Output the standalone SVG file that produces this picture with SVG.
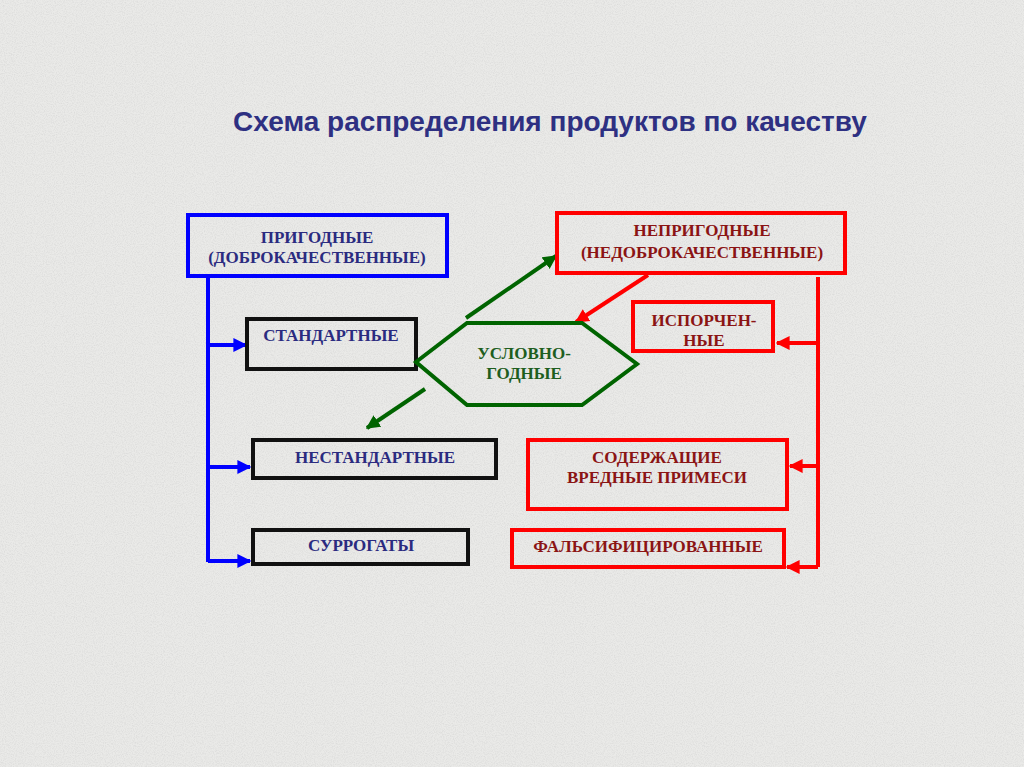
<svg xmlns="http://www.w3.org/2000/svg" width="1024" height="767" viewBox="0 0 1024 767">
<defs>
<filter id="grain" x="0" y="0" width="100%" height="100%">
<feTurbulence type="fractalNoise" baseFrequency="0.9" numOctaves="2" seed="3" result="n"/>
<feColorMatrix in="n" type="matrix" values="0 0 0 0 0.55  0 0 0 0 0.55  0 0 0 0 0.55  0 0 0 -1.2 0.75" result="m"/>
<feComposite in="m" in2="SourceGraphic" operator="in"/>
</filter>
<marker id="ab" viewBox="0 0 10 10" refX="9" refY="5" markerWidth="3.5" markerHeight="3.5" orient="auto" markerUnits="strokeWidth"><path d="M0,0 L10,5 L0,10 z" fill="#0000ff"/></marker>
<marker id="ar" viewBox="0 0 10 10" refX="9" refY="5" markerWidth="3.5" markerHeight="3.5" orient="auto" markerUnits="strokeWidth"><path d="M0,0 L10,5 L0,10 z" fill="#ff0000"/></marker>
<marker id="ag" viewBox="0 0 10 10" refX="9" refY="5" markerWidth="3.5" markerHeight="3.5" orient="auto" markerUnits="strokeWidth"><path d="M0,0 L10,5 L0,10 z" fill="#006400"/></marker>
</defs>
<style>
.box{fill:none;stroke-width:4}
.blue{stroke:#0000ff}
.red{stroke:#ff0000}
.blk{stroke:#111111}
.t{font-family:"Liberation Serif","Times New Roman",serif;font-weight:bold;font-size:17px;text-anchor:middle}
.tb{fill:#2b2b80}
.tr{fill:#8b1414}
.tg{fill:#1e5e1e}
.lb{stroke:#0000ff;stroke-width:4;fill:none}
.lr{stroke:#ff0000;stroke-width:4;fill:none}
.lg{stroke:#006400;stroke-width:4;fill:none}
</style>
<rect width="1024" height="767" fill="#eaeae8"/>
<rect width="1024" height="767" fill="#ffffff" filter="url(#grain)" opacity="0.6"/>
<text x="550" y="131" font-family="Liberation Sans,Arial,sans-serif" font-weight="bold" font-size="28" fill="#2e3082" text-anchor="middle">Схема распределения продуктов по качеству</text>

<g id="connectors">
<path class="lb" d="M208,276 V562"/>
<path class="lb" d="M208,345 H246" marker-end="url(#ab)"/>
<path class="lb" d="M208,467 H250" marker-end="url(#ab)"/>
<path class="lb" d="M208,561 H250" marker-end="url(#ab)"/>
<path class="lr" d="M818,277 V567"/>
<path class="lr" d="M818,343 H777" marker-end="url(#ar)"/>
<path class="lr" d="M818,466 H790" marker-end="url(#ar)"/>
<path class="lr" d="M818,567 H787" marker-end="url(#ar)"/>
<path class="lg" d="M466,318 L556,256" marker-end="url(#ag)"/>
<path class="lg" d="M425,389 L367,428" marker-end="url(#ag)"/>
<path class="lr" d="M648,275 L576,322" marker-end="url(#ar)"/>
</g>

<g id="prigodnye">
<rect class="box blue" x="188" y="215" width="259" height="61"/>
<text class="t tb" x="317" y="243">ПРИГОДНЫЕ</text>
<text class="t tb" x="317" y="263">(ДОБРОКАЧЕСТВЕННЫЕ)</text>
</g>
<g id="standartnye">
<rect class="box blk" x="247" y="319" width="169" height="50"/>
<text class="t tb" x="331" y="341">СТАНДАРТНЫЕ</text>
</g>
<g id="nestandartnye">
<rect class="box blk" x="253" y="440" width="243" height="38"/>
<text class="t tb" x="375" y="463">НЕСТАНДАРТНЫЕ</text>
</g>
<g id="surrogaty">
<rect class="box blk" x="253" y="530" width="215" height="34"/>
<text class="t tb" x="361" y="551">СУРРОГАТЫ</text>
</g>
<g id="neprigodnye">
<rect class="box red" x="557" y="213" width="288" height="60"/>
<text class="t tr" x="702" y="236">НЕПРИГОДНЫЕ</text>
<text class="t tr" x="702" y="258">(НЕДОБРОКАЧЕСТВЕННЫЕ)</text>
</g>
<g id="isporchennye">
<rect class="box red" x="633" y="302" width="140" height="49"/>
<text class="t tr" x="704" y="326">ИСПОРЧЕН-</text>
<text class="t tr" x="704" y="346">НЫЕ</text>
</g>
<g id="uslovno">
<polygon points="416,362 467,323 582,323 637,364 582,405 467,405" fill="none" stroke="#006400" stroke-width="4"/>
<text class="t tg" x="524" y="359">УСЛОВНО-</text>
<text class="t tg" x="524" y="379">ГОДНЫЕ</text>
</g>
<g id="soderzh">
<rect class="box red" x="528" y="440" width="259" height="69"/>
<text class="t tr" x="657" y="463">СОДЕРЖАЩИЕ</text>
<text class="t tr" x="657" y="483">ВРЕДНЫЕ ПРИМЕСИ</text>
</g>
<g id="falsif">
<rect class="box red" x="512" y="530" width="272" height="37"/>
<text class="t tr" x="648" y="552">ФАЛЬСИФИЦИРОВАННЫЕ</text>
</g>
</svg>
